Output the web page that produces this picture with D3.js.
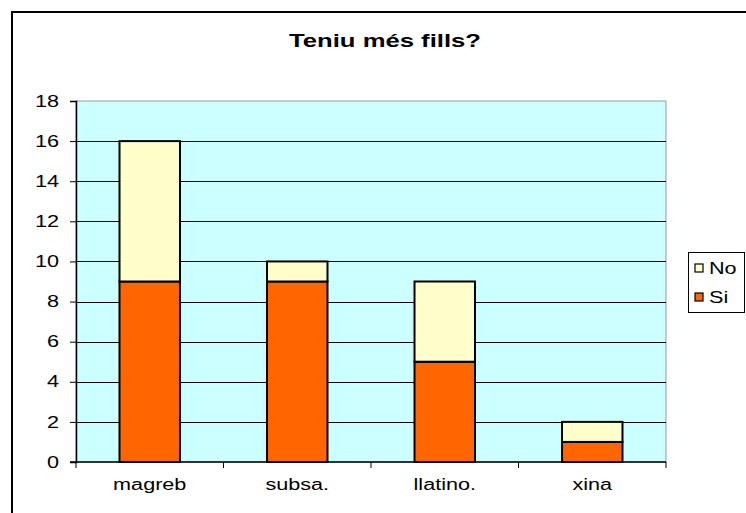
<!DOCTYPE html>
<html>
<head>
<meta charset="utf-8">
<script src="https://cdn.jsdelivr.net/npm/d3@7"></script>
<style>
  html, body { margin: 0; padding: 0; background: #fff; overflow: hidden; }
  text { font-family: "Liberation Sans", Arial, sans-serif; fill: #000; }
</style>
</head>
<body>
<div id="chart"></div>
<script>
const categories = ['magreb', 'subsa.', 'llatino.', 'xina'];
const siValues = [9, 9, 5, 1];
const noValues = [7, 1, 4, 1];
const seriesNames = ['Si', 'No'];
const yTicks = [0, 2, 4, 6, 8, 10, 12, 14, 16, 18];
const title = 'Teniu més fills?';

const width = 746;
const height = 513;
const plot = { left: 76, right: 666, top: 101, bottom: 462 };
const stretch = 1.35;
const colors = { Si: '#FF6600', No: '#FFFFCC' };

const svg = d3.select('#chart')
  .append('svg')
  .attr('width', width)
  .attr('height', height);

// stretch text horizontally like the original rendering
function widen(sel) {
  sel.each(function () {
    const w = this.getComputedTextLength();
    d3.select(this)
      .attr('textLength', w * stretch)
      .attr('lengthAdjust', 'spacingAndGlyphs');
  });
}

// outer frame (cut off at right and bottom)
svg.append('rect')
  .attr('x', 12).attr('y', 12)
  .attr('width', 900).attr('height', 700)
  .attr('fill', 'none')
  .attr('stroke', '#000')
  .attr('stroke-width', 2);

const x = d3.scaleBand()
  .domain(categories)
  .range([plot.left, plot.right])
  .paddingInner(0.59)
  .paddingOuter(0.295);

const y = d3.scaleLinear()
  .domain([0, 18])
  .range([plot.bottom, plot.top]);

// plot background
svg.append('rect')
  .attr('x', plot.left).attr('y', plot.top)
  .attr('width', plot.right - plot.left)
  .attr('height', plot.bottom - plot.top)
  .attr('fill', '#CCFFFF')
  .attr('stroke', '#999')
  .attr('stroke-width', 1);

// gridlines
svg.append('g')
  .selectAll('line')
  .data(yTicks.filter(d => d > 0 && d < 18))
  .join('line')
  .attr('x1', plot.left).attr('x2', plot.right)
  .attr('y1', d => Math.round(y(d)) + 0.5)
  .attr('y2', d => Math.round(y(d)) + 0.5)
  .attr('stroke', '#000')
  .attr('stroke-width', 1);

// stacked bars
const rows = categories.map((c, i) => ({ cat: c, Si: siValues[i], No: noValues[i] }));
const stack = d3.stack().keys(seriesNames)(rows);

svg.append('g')
  .selectAll('g')
  .data(stack)
  .join('g')
  .attr('fill', d => colors[d.key])
  .selectAll('rect')
  .data(d => d)
  .join('rect')
  .attr('x', d => x(d.data.cat))
  .attr('y', d => y(d[1]))
  .attr('width', x.bandwidth())
  .attr('height', d => y(d[0]) - y(d[1]))
  .attr('stroke', '#000')
  .attr('stroke-width', 2);

// y axis
const yAxis = svg.append('g')
  .attr('transform', `translate(${plot.left},0)`)
  .call(d3.axisLeft(y).tickValues(yTicks).tickSize(6).tickPadding(11));
yAxis.select('.domain').attr('stroke', '#000').attr('stroke-width', 1.5);
yAxis.selectAll('.tick line').attr('stroke', '#000');
yAxis.selectAll('.tick text')
  .attr('font-size', 16)
  .attr('font-family', '"Liberation Sans", Arial, sans-serif')
  .call(widen);

// x axis with ticks between categories
const xAxis = svg.append('g')
  .attr('transform', `translate(0,${plot.bottom})`);
xAxis.append('line')
  .attr('x1', plot.left - 6).attr('x2', plot.right)
  .attr('stroke', '#000').attr('stroke-width', 1.5);
const step = x.step();
xAxis.selectAll('.sep')
  .data(d3.range(categories.length + 1))
  .join('line')
  .attr('class', 'sep')
  .attr('x1', i => plot.left + i * step)
  .attr('x2', i => plot.left + i * step)
  .attr('y1', 0).attr('y2', 6)
  .attr('stroke', '#000');
xAxis.selectAll('.lab')
  .data(categories)
  .join('text')
  .attr('class', 'lab')
  .attr('x', d => x(d) + x.bandwidth() / 2)
  .attr('y', 28)
  .attr('text-anchor', 'middle')
  .attr('font-size', 16)
  .text(d => d)
  .call(widen);

// title
svg.append('text')
  .attr('x', 385)
  .attr('y', 47)
  .attr('text-anchor', 'middle')
  .attr('font-size', 19)
  .attr('font-weight', 'bold')
  .text(title)
  .call(widen);

// legend
const legend = svg.append('g').attr('transform', 'translate(688,252)');
legend.append('rect')
  .attr('x', 0.5).attr('y', 0.5)
  .attr('width', 56).attr('height', 60)
  .attr('fill', '#fff')
  .attr('stroke', '#000');
const legendItems = legend.selectAll('g')
  .data(seriesNames.slice().reverse())
  .join('g')
  .attr('transform', (d, i) => `translate(7,${16 + i * 29})`);
legendItems.append('rect')
  .attr('x', 0).attr('y', -4)
  .attr('width', 8).attr('height', 8)
  .attr('fill', d => colors[d])
  .attr('stroke', '#000')
  .attr('stroke-width', 1.2);
legendItems.append('text')
  .attr('x', 14).attr('y', 0)
  .attr('dy', '0.35em')
  .attr('font-size', 16)
  .text(d => d)
  .call(widen);
</script>
</body>
</html>
